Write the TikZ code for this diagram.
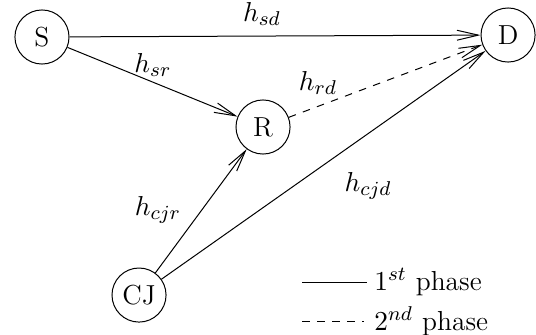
\documentclass[tikz,border=0pt]{standalone}
\usepackage{amsmath}
\usetikzlibrary{arrows.meta}

\begin{document}
\begin{tikzpicture}[
  every node/.style={font=\fontsize{11}{13}\selectfont},
  station/.style={circle, draw, minimum size=0.76cm, inner sep=0pt},
  arr/.style={-{Straight Barb[length=3mm, width=1.4mm]}},
  lbl/.style={inner sep=1pt}
]
\useasboundingbox (0,0) rectangle (7.534,4.695);

\node[station] (s)  at (0.590,4.175) {S};
\node[station] (d)  at (7.141,4.203) {D};
\node[station] (r)  at (3.697,2.910) {R};
\node[station] (cj) at (1.954,0.548) {CJ};

\draw[arr] (s) -- (d);
\draw[arr] (s) -- (r);
\draw[arr, dashed] (r) -- (d);
\draw[arr] (cj) -- (r);
\draw[arr] (cj) -- (d);

\node[lbl] (hsd)  at (3.683,4.498) {$h_{sd}$};
\node[lbl] (hsr)  at (2.150,3.780) {$h_{sr}$};
\node[lbl] (hrd)  at (4.470,3.530) {$h_{rd}$};
\node[lbl] (hcjr) at (2.221,1.743) {$h_{cjr}$};
\node[lbl] (hcjd) at (5.173,2.080) {$h_{cjd}$};

% legend
\coordinate (l1a) at (4.245,0.731);
\coordinate (l1b) at (5.159,0.731);
\coordinate (l2a) at (4.245,0.183);
\coordinate (l2b) at (5.110,0.183);
\draw (l1a) -- (l1b);
\draw[dashed] (l2a) -- (l2b);
\node[anchor=west, lbl] (ph1) at (5.220,0.731) {$1^{st}$ phase};
\node[anchor=west, lbl] (ph2) at (5.220,0.183) {$2^{nd}$ phase};
\end{tikzpicture}
\end{document}
